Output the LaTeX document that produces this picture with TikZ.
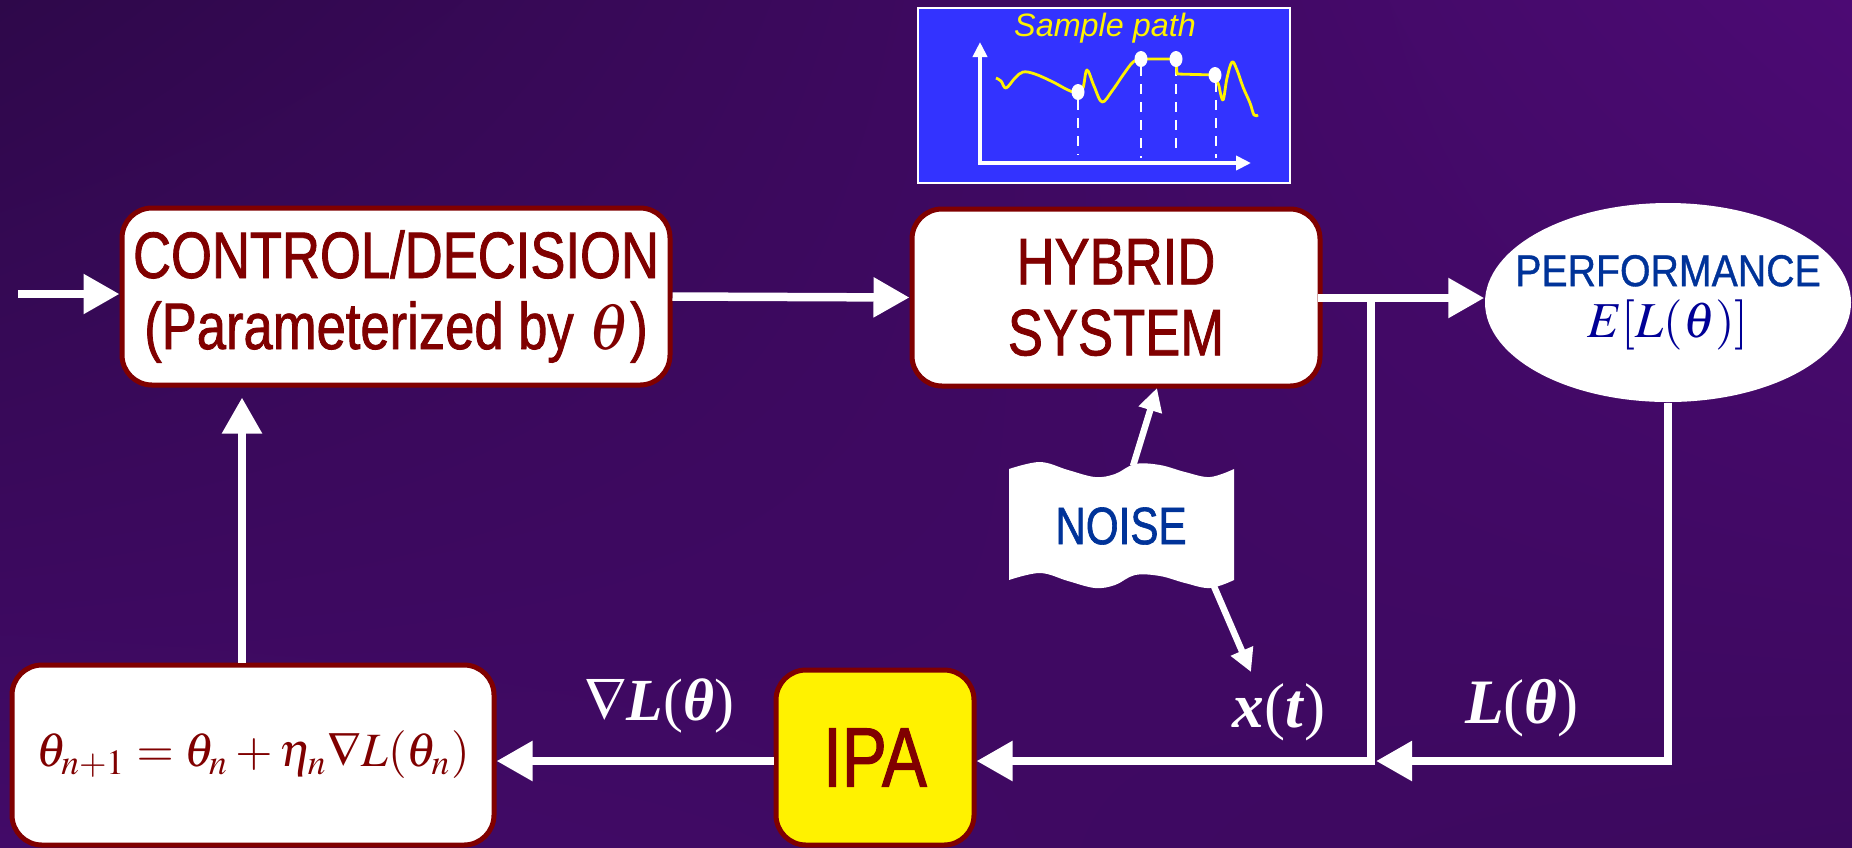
\documentclass[tikz,border=0pt]{standalone}
\usepackage{mathptmx}
\usepackage{fontspec}
\setmainfont{Liberation Serif}
\newfontfamily\narrowsf[FakeStretch=0.8, FakeBold=1.2]{Liberation Sans}
\newfontfamily\perfsf[FakeStretch=0.88, FakeBold=0.8]{Liberation Sans}
\newfontfamily\plainsf{Liberation Sans}
\usetikzlibrary{arrows.meta,shapes.geometric,shadings}
\definecolor{BoxRed}{RGB}{128,0,0}
\definecolor{TextBlue}{RGB}{0,51,153}
\definecolor{MathBlue}{RGB}{0,0,150}
\definecolor{BgDark}{RGB}{46,8,74}
\definecolor{BgLight}{RGB}{76,10,116}
\definecolor{BgLeft}{RGB}{66,10,104}
\definecolor{BgRight}{RGB}{60,9,94}
\definecolor{PathBlue}{RGB}{51,51,255}

\begin{document}
\begin{tikzpicture}[x=0.1mm, y=-0.1mm,
    >={Triangle[length=3.6mm,width=3.8mm]},
    flow/.style={draw=white, line width=0.85mm, ->},
    wire/.style={draw=white, line width=0.85mm, line cap=rect},
    noisearrow/.style={draw=white, line width=0.65mm, -{Triangle[length=2.3mm,width=2.3mm]}},
    block/.style={draw=BoxRed, line width=0.5mm, fill=white, rounded corners=3mm,
      inner sep=0pt, text=BoxRed, align=center},
    bigtext/.style={font={\narrowsf\fontsize{18.7}{20.2}\selectfont}},
    lbl/.style={text=white, font={\fontsize{18}{18}\selectfont}}]
  % background
  \useasboundingbox (0,0) rectangle (1852,847);
  \shade[upper left=BgDark, upper right=BgLight, lower left=BgLeft, lower right=BgRight]
    (0,0) rectangle (1852,847);

  % sample path inset
  \node[draw=white, line width=0.25mm, fill=PathBlue, minimum width=37.2mm, minimum height=17.5mm, inner sep=0pt] (inset) at (1104,95.5) {};
  \node[text=yellow, font={\plainsf\itshape\fontsize{9.2}{9.2}\selectfont}] (title) at (1105,28) {Sample path};
  \draw[white, line width=0.45mm, -{Triangle[length=1.5mm,width=1.4mm]}] (980,164) -- (980,42);
  \draw[white, line width=0.45mm, -{Triangle[length=1.5mm,width=1.4mm]}] (978,163) -- (1251,163);
  \draw[white, line width=0.22mm, dash pattern=on 1mm off 0.8mm] (1078,100) -- (1078,155);
  \draw[white, line width=0.22mm, dash pattern=on 1mm off 0.8mm] (1141,66) -- (1141,158);
  \draw[white, line width=0.22mm, dash pattern=on 1mm off 0.8mm] (1176,66) -- (1176,155);
  \draw[white, line width=0.22mm, dash pattern=on 1mm off 0.8mm] (1216,82) -- (1216,158);
  \draw[yellow, line width=0.28mm, line join=round]
    plot[smooth, tension=0.6] coordinates {(996,78) (1001,81) (1006,88) (1015,78) (1023,72)
      (1035,74) (1053,82) (1068,90) (1078,93) (1083,88) (1087,70) (1094,86) (1102,102)
      (1112,91) (1123,75) (1133,62) (1141,59)}
    -- (1176,59) -- (1177,74) -- (1215,75)
    -- plot[smooth, tension=0.6] coordinates {(1219,86) (1223,100) (1227,78) (1232,62)
      (1237,70) (1243,87) (1250,103) (1254,115) (1258,115)};
  \foreach \px/\py in {1078/92, 1141/59, 1176/59, 1215/75}
    \fill[white] (\px,\py) ellipse (6.5 and 8);

  % blocks
  \node[block, bigtext, minimum width=54.8mm, minimum height=17.7mm] (ctrl) at (396,296.5)
    {CONTROL/DECISION\\(Parameterized by $\theta$)};
  \node[block, bigtext, minimum width=40.8mm, minimum height=17.7mm] (hyb) at (1116,297.5)
    {HYBRID\\SYSTEM};
  \node[ellipse, fill=white, minimum width=36.6mm, minimum height=19.9mm, inner sep=0pt] (perf) at (1668,302.5) {};
  \node[align=center, text=TextBlue, inner sep=0pt, font={\perfsf\fontsize{12.7}{15.6}\selectfont}] (perftext) at (perf.center)
    {PERFORMANCE\\[-1pt]\textcolor{MathBlue}{\fontsize{14.3}{15}\selectfont$E[L(\theta)]$}};
  \node[block, minimum width=48.2mm, minimum height=18mm, font={\fontsize{13.6}{14}\selectfont}] (upd) at (253,755)
    {$\theta_{n+1}=\theta_n+\eta_n\nabla L(\theta_n)$};
  \node[block, fill=yellow, minimum width=19.8mm, minimum height=17.5mm,
    font={\narrowsf\fontsize{24}{24}\selectfont}] (ipa) at (875,757.5) {IPA};

  % noise flag
  \fill[white] plot[smooth, tension=0.6] coordinates {(1009,469) (1040,462) (1068,470) (1095,477)
      (1115,474) (1135,464) (1160,465) (1185,472) (1210,477) (1234,469)}
    -- plot[smooth, tension=0.6] coordinates {(1234,580) (1210,588) (1185,583) (1160,576)
      (1135,575) (1115,585) (1095,588) (1068,581) (1040,573) (1009,580)} -- cycle;
  \node[text=TextBlue, font={\narrowsf\fontsize{15}{15}\selectfont}] (noise) at (1121,526) {NOISE};

  % junction points
  \coordinate (input) at (18,294);
  \coordinate (feed) at (242,0);
  \coordinate (split) at (1371,298);
  \coordinate (merge) at (1371,761);
  \coordinate (noiseIn) at (1133,466);
  \coordinate (hybIn) at (1157,388);
  \coordinate (noiseOut) at (1213,584);
  \coordinate (xtIn) at (1251,672);

  % connectors
  \draw[flow] (input) -- (ctrl.west |- input);
  \draw[flow] (ctrl.east) -- (hyb.west);
  \draw[wire] (hyb.east |- split) -- (split);
  \draw[flow] (split) -- (perf.west |- split);
  \draw[wire] (split) -- (merge);
  \draw[flow] (perf.south) |- ([xshift=0.5mm]merge);
  \draw[flow] ([xshift=-0.3mm]merge) -- (ipa.east |- merge);
  \draw[flow] (ipa.west |- merge) -- (upd.east |- merge);
  \draw[flow, shorten >=1mm] (upd.north -| feed) -- (ctrl.south -| feed);
  \draw[noisearrow] (noiseIn) -- (hybIn);
  \draw[noisearrow] (noiseOut) -- (xtIn);

  % labels
  \node[lbl, font={\fontsize{17}{17}\selectfont}] (gradlbl) at (659,705)
    {$\nabla$\textbf{\textit{L}}(\textbf{\textit{θ}})};
  \node[lbl] (xlbl) at (1279,712) {\textbf{\textit{x}}(\textbf{\textit{t}})};
  \node[lbl] (llbl) at (1522,708) {\textbf{\textit{L}}(\textbf{\textit{θ}})};
\end{tikzpicture}
\end{document}
